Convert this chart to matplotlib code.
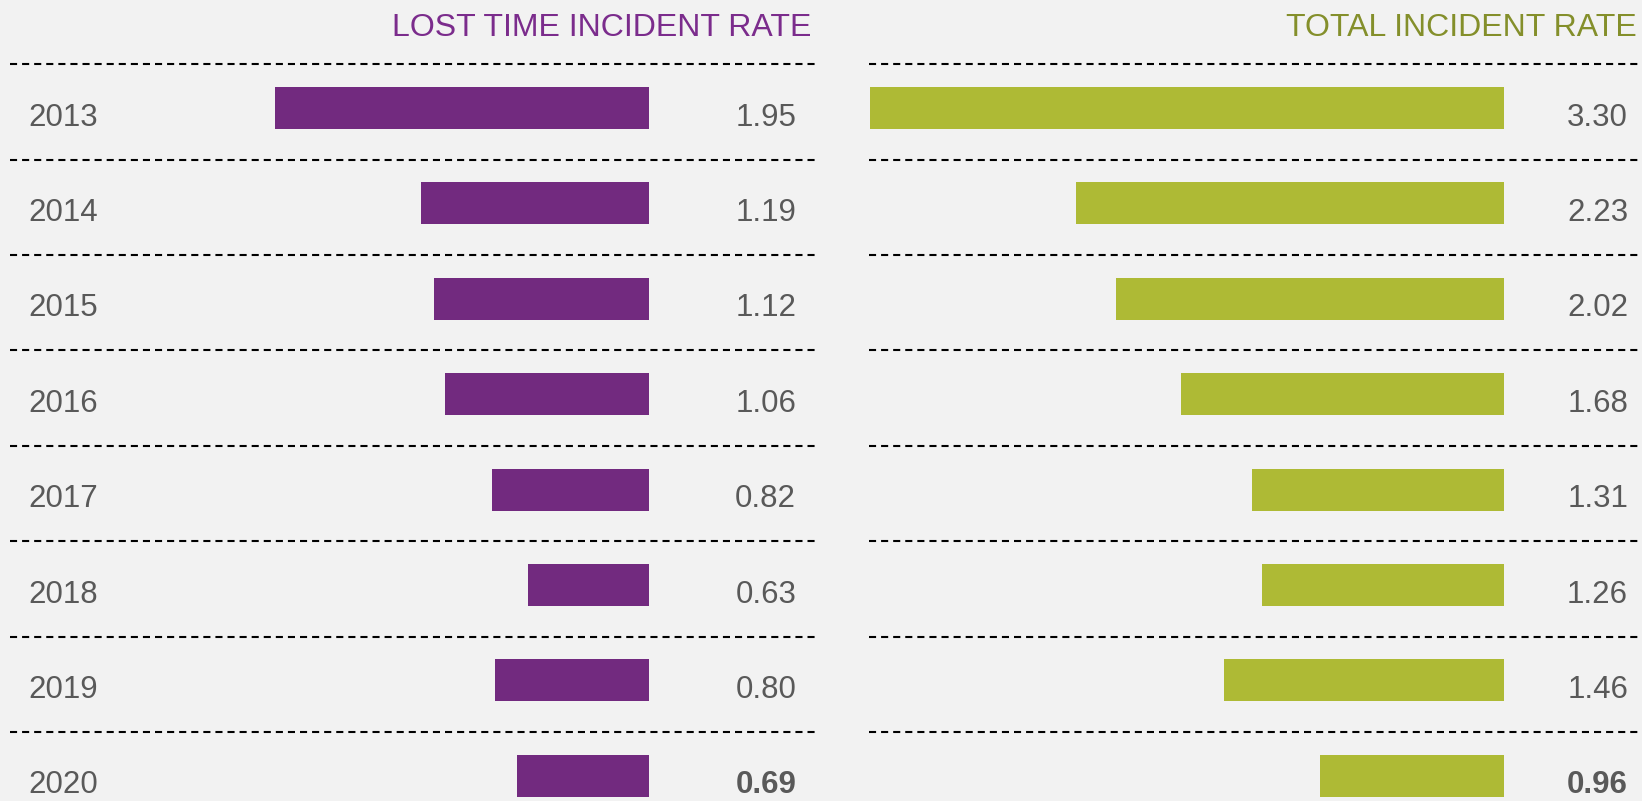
import matplotlib
matplotlib.use('Agg')
import matplotlib.pyplot as plt

years = ['2013', '2014', '2015', '2016', '2017', '2018', '2019', '2020']
lost_time_rate = [1.95, 1.19, 1.12, 1.06, 0.82, 0.63, 0.80, 0.69]
total_rate = [3.30, 2.23, 2.02, 1.68, 1.31, 1.26, 1.46, 0.96]

bg = '#F2F2F2'
text_grey = '#595959'
purple = '#722A7F'
green = '#AEBA35'

plt.rcParams['font.family'] = ['Liberation Sans', 'DejaVu Sans']

W, H = 1642, 801
fig = plt.figure(figsize=(W / 100, H / 100), dpi=100, facecolor=bg)

px_per_unit = 192.0
row_top, row_step = 108.0, 95.4  # pixel centre of first row, row spacing


def panel(left_px, right_px, zero_px, values, color, show_years):
    ax = fig.add_axes([left_px / W, 0, (right_px - left_px) / W, 1])
    ax.set_facecolor(bg)
    ax.set_xlim((zero_px - left_px) / px_per_unit, -(right_px - zero_px) / px_per_unit)
    ax.set_ylim((H - row_top) / row_step, -row_top / row_step)
    rows = range(len(values))
    ax.barh(rows, values, height=0.44, color=color)
    tr = ax.get_yaxis_transform()
    for i in rows:
        ax.axhline(i - 0.46, xmin=0.012 if show_years else 0, xmax=0.997 if show_years else 1,
                   color='black', lw=1.5, ls=(0, (3.4, 2.4)))
        bold = i == len(values) - 1
        val_x = 0.971 if show_years else 0.982
        ax.text(val_x, i + 0.1, '%.2f' % values[i], transform=tr, ha='right', va='center',
                fontsize=22.5, color=text_grey, fontweight='bold' if bold else 'normal')
        if show_years:
            ax.text(0.034, i + 0.1, years[i], transform=tr, ha='left', va='center',
                    fontsize=22.5, color=text_grey)
    ax.axis('off')
    return ax


panel(0, 820, 649, lost_time_rate, purple, True)
panel(869, 1642, 1504, total_rate, green, False)

fig.text(811 / W, 1 - 28 / H, 'LOST TIME INCIDENT RATE', ha='right', va='center',
         fontsize=23, color='#7B2C8C')
fig.text(1637 / W, 1 - 28 / H, 'TOTAL INCIDENT RATE', ha='right', va='center',
         fontsize=23, color='#848F2B')

fig.savefig('out.png', dpi=100, facecolor=bg)
